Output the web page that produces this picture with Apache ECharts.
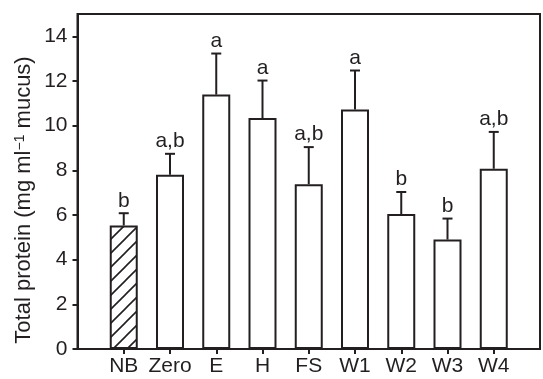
<!DOCTYPE html>
<html>
<head>
<meta charset="utf-8">
<script src="https://cdn.jsdelivr.net/npm/echarts@6/dist/echarts.min.js"></script>
<style>
html,body{margin:0;padding:0;background:#fff;}
#chart{width:543px;height:379px;}
</style>
</head>
<body>
<div id="chart"></div>
<script>
const categories = ['NB', 'Zero', 'E', 'H', 'FS', 'W1', 'W2', 'W3', 'W4'];
const means = [5.53, 7.80, 11.39, 10.34, 7.38, 10.72, 6.04, 4.90, 8.07];
const errors = [0.55, 0.94, 1.84, 1.68, 1.66, 1.75, 0.99, 0.94, 1.65];
const sigLetters = ['b', 'a,b', 'a', 'a', 'a,b', 'a', 'b', 'b', 'a,b'];
const yTicks = [0, 2, 4, 6, 8, 10, 12, 14];
const yMax = 15;
const yTitle = 'Total protein (mg ml{sup|−1} mucus)';

const INK = '#231f20';
const FONT = '"Liberation Sans", Arial, Helvetica, sans-serif';

const axisCats = [''].concat(categories, ['']);

function makeHatch() {
  const s = 14;
  const c = document.createElement('canvas');
  c.width = s; c.height = s;
  const g = c.getContext('2d');
  g.fillStyle = '#fff';
  g.fillRect(0, 0, s, s);
  g.strokeStyle = INK;
  g.lineWidth = 1.6;
  g.beginPath();
  g.moveTo(-2, s + 2); g.lineTo(s + 2, -2);
  g.moveTo(-s / 2 - 2, s / 2 + 2); g.lineTo(s / 2 + 2, -s / 2 - 2);
  g.moveTo(s / 2 - 2, s * 1.5 + 2); g.lineTo(s * 1.5 + 2, s / 2 - 2);
  g.stroke();
  return c;
}
const hatch = makeHatch();

const barData = [null].concat(means.map(function (v, i) {
  if (i === 0) {
    return { value: v, itemStyle: { color: { image: hatch, repeat: 'repeat' } } };
  }
  return v;
}), [null]);

const errData = means.map(function (v, i) { return [i + 1, v, errors[i]]; });

const chart = echarts.init(document.getElementById('chart'), null, { renderer: 'canvas' });
chart.setOption({
  animation: false,
  backgroundColor: '#fff',
  grid: {
    left: 77.5, top: 14, width: 470, height: 335,
    show: true, borderColor: INK, borderWidth: 2, backgroundColor: 'transparent'
  },
  graphic: [{
    type: 'text',
    x: 24, y: 200,
    rotation: Math.PI / 2,
    style: {
      text: yTitle,
      fill: INK, fontSize: 22, fontFamily: FONT,
      align: 'center', verticalAlign: 'middle',
      rich: { sup: { fontSize: 14, fontFamily: FONT, fill: INK, verticalAlign: 'top', lineHeight: 22 } }
    }
  }],
  xAxis: {
    type: 'category',
    data: axisCats,
    boundaryGap: false,
    axisLine: { lineStyle: { color: INK, width: 2 } },
    axisTick: {
      length: 5, lineStyle: { color: INK, width: 2 },
      interval: function (i) { return i > 0 && i < axisCats.length - 1; }
    },
    axisLabel: { color: INK, fontSize: 21, fontFamily: FONT, margin: 7, interval: 0 },
    splitLine: { show: false }
  },
  yAxis: {
    type: 'value',
    min: 0, max: yMax,
    axisLine: { show: true, lineStyle: { color: INK, width: 2 } },
    axisTick: { show: true, length: 5, lineStyle: { color: INK, width: 2 }, customValues: yTicks },
    axisLabel: { color: INK, fontSize: 21, fontFamily: FONT, margin: 10, customValues: yTicks },
    splitLine: { show: false }
  },
  series: [
    {
      type: 'bar',
      data: barData,
      barWidth: 28,
      itemStyle: { color: '#fff', borderColor: INK, borderWidth: 2 },
      z: 2
    },
    {
      type: 'custom',
      data: errData,
      z: 3,
      renderItem: function (params, api) {
        const i = api.value(0);
        const v = api.value(1);
        const e = api.value(2);
        const base = api.coord([i, v]);
        const top = api.coord([i, v + e]);
        const half = 5;
        return {
          type: 'group',
          children: [
            { type: 'line', shape: { x1: base[0], y1: base[1], x2: top[0], y2: top[1] },
              style: { stroke: INK, lineWidth: 2 } },
            { type: 'line', shape: { x1: top[0] - half, y1: top[1], x2: top[0] + half, y2: top[1] },
              style: { stroke: INK, lineWidth: 2 } },
            { type: 'text', x: top[0], y: top[1] - 2,
              style: { text: sigLetters[params.dataIndex], fill: INK, fontSize: 21, fontFamily: FONT,
                       align: 'center', verticalAlign: 'bottom' } }
          ]
        };
      }
    }
  ]
});
</script>
</body>
</html>
